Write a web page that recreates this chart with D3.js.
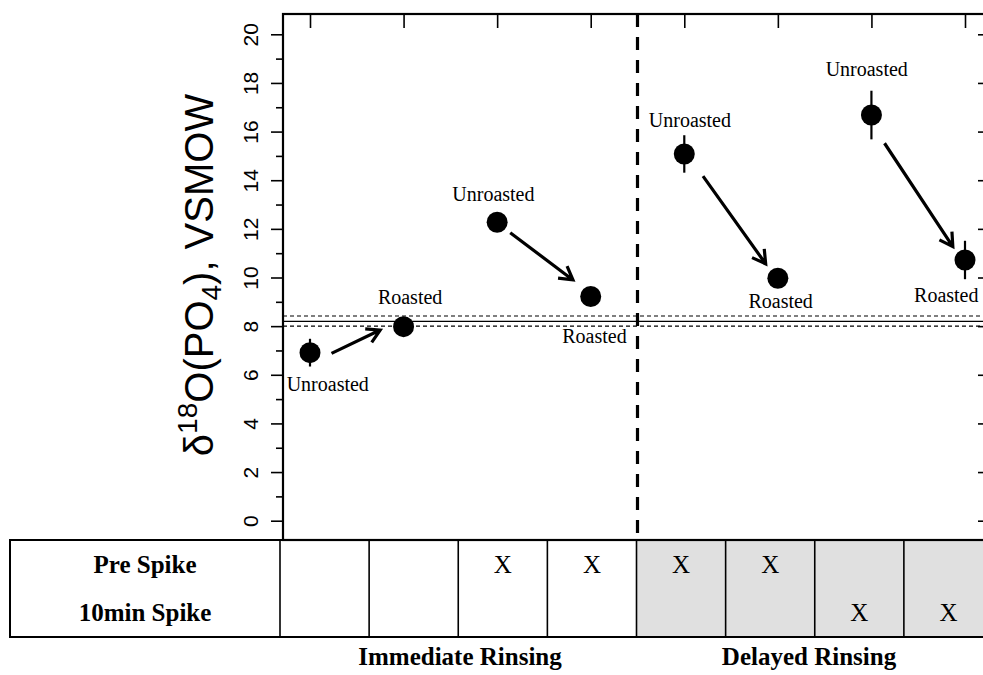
<!DOCTYPE html>
<html><head><meta charset="utf-8">
<script src="https://cdn.jsdelivr.net/npm/d3@7"></script>
<style>body{margin:0;background:#fff} svg{display:block}</style>
</head><body>
<svg id="chart" width="983" height="675"></svg>
<script>
// Sample positions along the x axis and their treatment
const positions = [1, 2, 3, 4, 5, 6, 7, 8];
const treatment = ["Unroasted", "Roasted", "Unroasted", "Roasted", "Unroasted", "Roasted", "Unroasted", "Roasted"];
// Mean d18O of phosphate (per mil, VSMOW) and its error
const d18O = [6.91, 7.98, 12.27, 9.22, 15.08, 9.97, 16.68, 10.72];
const d18OErr = [0.57, 0.3, 0.3, 0.3, 0.77, 0.3, 1.0, 0.79];
// Label anchors in data units (x, y)
const labelX = [1.19, 2.07, 2.96, 4.04, 5.06, 6.03, 6.95, 7.80];
const labelY = [5.62, 9.20, 13.45, 7.59, 16.49, 9.03, 18.57, 9.29];
// Arrows from unroasted to roasted, data units
const arrowFrom = [[1.23, 6.88], [3.14, 11.84], [5.20, 14.17], [7.14, 15.52]];
const arrowTo = [[1.75, 7.84], [3.81, 9.90], [5.87, 10.56], [7.87, 11.27]];
// Reference value (mean and band)
const refMean = 8.2;
const refBand = [8.0, 8.42];
// Divider between rinsing groups
const groupDivider = 4.5;
// Y axis ticks
const yMajor = [0, 2, 4, 6, 8, 10, 12, 14, 16, 18, 20];
const yMinor = [1, 3, 5, 7, 9, 11, 13, 15, 17, 19];
// Treatment table
const rowLabels = ["Pre Spike", "10min Spike"];
const preSpike = ["", "", "X", "X", "X", "X", "", ""];
const tenMinSpike = ["", "", "", "", "", "", "X", "X"];
const delayed = [false, false, false, false, true, true, true, true];
const groupLabels = ["Immediate Rinsing", "Delayed Rinsing"];

const svg = d3.select("#chart");
const SERIF = "'Liberation Serif', 'Times New Roman', serif";
const SANS = "'Liberation Sans', Arial, Helvetica, sans-serif";

const plot = {left: 283, top: 14, right: 992, bottom: 540};
const x = d3.scaleLinear().domain([1, 8]).range([310, 965]);
const y = d3.scaleLinear().domain([0, 20]).range([520.7, 34.3]);

// ---- table under the plot ----
const table = {left: 10, top: 540, bottom: 637};
const col = d3.scaleBand().domain(positions).range([280, 993]);
const rowY = [573, 621];

svg.selectAll("rect.shade").data(positions.filter((p, i) => delayed[i]))
  .join("rect").attr("class", "shade")
  .attr("x", d => col(d)).attr("y", table.top)
  .attr("width", col.bandwidth()).attr("height", table.bottom - table.top)
  .attr("fill", "#e0e0e0");

svg.append("rect")
  .attr("x", table.left).attr("y", table.top)
  .attr("width", col.range()[1] - table.left).attr("height", table.bottom - table.top)
  .attr("fill", "none").attr("stroke", "#000").attr("stroke-width", 2);

svg.selectAll("line.colsep").data(positions)
  .join("line").attr("class", "colsep")
  .attr("x1", d => col(d)).attr("x2", d => col(d))
  .attr("y1", table.top).attr("y2", table.bottom)
  .attr("stroke", "#000").attr("stroke-width", 1.6);

svg.selectAll("text.rowlab").data(rowLabels)
  .join("text").attr("class", "rowlab")
  .attr("x", (table.left + col.range()[0]) / 2).attr("y", (d, i) => rowY[i])
  .attr("text-anchor", "middle").attr("font-family", SERIF)
  .attr("font-weight", "bold").attr("font-size", 25).text(d => d);

[preSpike, tenMinSpike].forEach((row, r) => {
  svg.selectAll("text.mark" + r).data(positions)
    .join("text").attr("class", "mark" + r)
    .attr("x", d => col(d) + col.bandwidth() / 2).attr("y", rowY[r])
    .attr("text-anchor", "middle").attr("font-family", SERIF)
    .attr("font-size", 25).text((d, i) => row[i]);
});

const groupX = [460, 809];
svg.selectAll("text.group").data(groupLabels)
  .join("text").attr("class", "group")
  .attr("x", (d, i) => groupX[i]).attr("y", 665)
  .attr("text-anchor", "middle").attr("font-family", SERIF)
  .attr("font-weight", "bold").attr("font-size", 25).text(d => d);

// ---- plot area ----
// reference band
svg.append("line")
  .attr("x1", plot.left).attr("x2", plot.right)
  .attr("y1", y(refMean)).attr("y2", y(refMean))
  .attr("stroke", "#000").attr("stroke-width", 1.3);
svg.selectAll("line.band").data(refBand)
  .join("line").attr("class", "band")
  .attr("x1", plot.left).attr("x2", plot.right)
  .attr("y1", d => y(d)).attr("y2", d => y(d))
  .attr("stroke", "#000").attr("stroke-width", 1.1)
  .attr("stroke-dasharray", "4,3");

// group divider
svg.append("line")
  .attr("x1", x(groupDivider)).attr("x2", x(groupDivider))
  .attr("y1", plot.top).attr("y2", plot.bottom)
  .attr("stroke", "#000").attr("stroke-width", 3.2)
  .attr("stroke-dasharray", "13,10");

// error bars
svg.selectAll("line.err").data(positions)
  .join("line").attr("class", "err")
  .attr("x1", d => x(d)).attr("x2", d => x(d))
  .attr("y1", (d, i) => y(d18O[i] - d18OErr[i]))
  .attr("y2", (d, i) => y(d18O[i] + d18OErr[i]))
  .attr("stroke", "#000").attr("stroke-width", 2.2);

// points
svg.selectAll("circle.pt").data(positions)
  .join("circle").attr("class", "pt")
  .attr("cx", d => x(d)).attr("cy", (d, i) => y(d18O[i]))
  .attr("r", 10.5).attr("fill", "#000");

// arrows with open heads
function arrowPath(a, b) {
  const x0 = x(a[0]), y0 = y(a[1]), x1 = x(b[0]), y1 = y(b[1]);
  const ang = Math.atan2(y1 - y0, x1 - x0);
  const L = 15, spread = Math.PI / 6;
  const h1 = [x1 - L * Math.cos(ang - spread), y1 - L * Math.sin(ang - spread)];
  const h2 = [x1 - L * Math.cos(ang + spread), y1 - L * Math.sin(ang + spread)];
  return `M${x0},${y0}L${x1},${y1}M${h1[0]},${h1[1]}L${x1},${y1}L${h2[0]},${h2[1]}`;
}
svg.selectAll("path.arrow").data(arrowFrom)
  .join("path").attr("class", "arrow")
  .attr("d", (d, i) => arrowPath(d, arrowTo[i]))
  .attr("fill", "none").attr("stroke", "#000").attr("stroke-width", 3.2)
  .attr("stroke-linejoin", "miter");

// point labels
svg.selectAll("text.ptlab").data(treatment)
  .join("text").attr("class", "ptlab")
  .attr("x", (d, i) => x(labelX[i])).attr("y", (d, i) => y(labelY[i]))
  .attr("dy", "0.35em")
  .attr("text-anchor", "middle").attr("font-family", SERIF)
  .attr("font-size", 20).text(d => d);

// axes
const gLeft = svg.append("g").attr("transform", `translate(${plot.left},0)`)
  .call(d3.axisLeft(y).tickValues(yMajor).tickSize(12).tickFormat(d3.format("d")));
gLeft.select(".domain").remove();
gLeft.selectAll("line").attr("stroke-width", 1.6);
gLeft.selectAll("text")
  .attr("transform", "rotate(-90)")
  .attr("x", 0).attr("y", -25).attr("dy", 0)
  .attr("text-anchor", "middle")
  .attr("font-family", SANS).attr("font-size", 21).attr("fill", "#000");

const gMinor = svg.append("g").attr("transform", `translate(${plot.left},0)`)
  .call(d3.axisLeft(y).tickValues(yMinor).tickSize(7).tickFormat(""));
gMinor.select(".domain").remove();
gMinor.selectAll("line").attr("stroke-width", 1.6);

const gTop = svg.append("g").attr("transform", `translate(0,${plot.top})`)
  .call(d3.axisTop(x).tickValues(positions).tickSize(-14).tickFormat(""));
gTop.select(".domain").remove();
gTop.selectAll("line").attr("stroke-width", 1.6);

const gRight = svg.append("g").attr("transform", `translate(${plot.right},0)`)
  .call(d3.axisRight(y).tickValues(yMajor).tickSize(-14).tickFormat(""));
gRight.select(".domain").remove();
gRight.selectAll("line").attr("stroke-width", 1.6);

// plot frame
svg.append("rect")
  .attr("x", plot.left).attr("y", plot.top)
  .attr("width", plot.right - plot.left).attr("height", plot.bottom - plot.top)
  .attr("fill", "none").attr("stroke", "#000").attr("stroke-width", 2.2);

// y axis title
const yt = svg.append("text")
  .attr("transform", "translate(213,275) rotate(-90)")
  .attr("text-anchor", "middle").attr("font-family", SANS).attr("font-size", 40);
yt.append("tspan").text("δ");
yt.append("tspan").attr("font-size", 28).attr("dy", -16).text("18");
yt.append("tspan").attr("dy", 16).text("O(PO");
yt.append("tspan").attr("font-size", 28).attr("dy", 8).text("4");
yt.append("tspan").attr("dy", -8).text("), VSMOW");
</script>
</body></html>
